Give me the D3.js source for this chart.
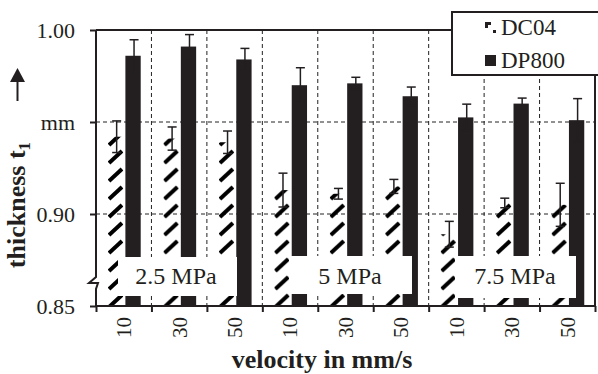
<!DOCTYPE html>
<html>
<head>
<meta charset="utf-8">
<script src="https://cdn.jsdelivr.net/npm/d3@7/dist/d3.min.js"></script>
<style>
  body { margin: 0; background: #fff; }
  svg { display: block; font-family: "Liberation Serif", "Times New Roman", serif; }
</style>
</head>
<body>
<div id="chart"></div>
<script>
// values
const pressures = ['2.5 MPa', '5 MPa', '7.5 MPa'];
const velocities = ['10', '30', '50'];
const series = ['DC04', 'DP800'];
const dc04 = [0.942, 0.941, 0.939, 0.913, 0.911, 0.915, 0.889, 0.906, 0.905];
const dc04Err = [0.0086, 0.0063, 0.0061, 0.0092, 0.0029, 0.0038, 0.007, 0.0026, 0.0117];
const dp800 = [0.986, 0.991, 0.984, 0.970, 0.971, 0.964, 0.9525, 0.960, 0.951];
const dp800Err = [0.0087, 0.0065, 0.006, 0.0095, 0.0033, 0.005, 0.0072, 0.003, 0.0117];
const yTicks = [0.85, 0.90, 0.95, 1.00];
const yTickLabels = ['0.85', '0.90', 'mm', '1.00'];

const width = 598, height = 374;
const plotL = 96, plotR = 595, plotT = 30, plotB = 306;
const ink = '#231f20';

const groups = [];
pressures.forEach(p => velocities.forEach(v => groups.push({ p, v })));

const data = groups.map((g, i) => ({
    i, p: g.p, v: g.v,
    vals: [
        { s: 'DC04', v: dc04[i], e: dc04Err[i] },
        { s: 'DP800', v: dp800[i], e: dp800Err[i] }
    ]
}));

const x = d3.scaleBand().domain(d3.range(groups.length)).range([plotL, plotR]);
const xs = d3.scaleBand().domain(series).range([12, 44.7]).paddingInner(0.12);
const y = d3.scaleLinear().domain([0.85, 1.00]).range([plotB, plotT]);
const edges = d3.scaleLinear().domain([0, groups.length]).range([plotL, plotR]);

const svg = d3.select('#chart').append('svg')
    .attr('width', width)
    .attr('height', height);

// hatch lives in each group's local space, so anchor it at the bar's local x
const defs = svg.append('defs');
const hatch = defs.append('pattern')
    .attr('id', 'hatch')
    .attr('patternUnits', 'userSpaceOnUse')
    .attr('x', xs('DC04'))
    .attr('y', 3)
    .attr('width', 40)
    .attr('height', 18);
hatch.append('path')
    .attr('d', 'M1,16 L14,4')
    .attr('stroke', '#000')
    .attr('stroke-width', 4);

// grid
const grid = svg.append('g');
grid.selectAll('.hgrid')
    .data([0.90, 0.95])
    .enter().append('line')
    .attr('x1', plotL).attr('x2', plotR)
    .attr('y1', d => y(d)).attr('y2', d => y(d))
    .style('stroke', '#222').style('stroke-dasharray', '4,3');
grid.selectAll('.vgrid')
    .data(d3.range(1, groups.length))
    .enter().append('line')
    .attr('x1', d => edges(d)).attr('x2', d => edges(d))
    .attr('y1', plotT).attr('y2', plotB)
    .style('stroke', '#222').style('stroke-dasharray', '4,3');

// bars
const groupG = svg.append('g').selectAll('.group')
    .data(data)
    .enter().append('g')
    .attr('transform', d => `translate(${x(d.i)},0)`);

groupG.selectAll('rect')
    .data(d => d.vals)
    .enter().append('rect')
    .attr('x', d => xs(d.s))
    .attr('width', xs.bandwidth())
    .attr('y', d => y(d.v))
    .attr('height', d => plotB - y(d.v))
    .style('fill', d => d.s === 'DC04' ? 'url(#hatch)' : ink);

// error bars
const err = groupG.selectAll('.err')
    .data(d => d.vals)
    .enter().append('g')
    .attr('transform', d => `translate(${xs(d.s) + xs.bandwidth() / 2 + 1},0)`)
    .style('stroke', ink)
    .style('stroke-width', 1.5);
err.append('line')
    .attr('y1', d => y(d.v - d.e)).attr('y2', d => y(d.v + d.e));
err.append('line')
    .attr('x1', -4.5).attr('x2', 4.5)
    .attr('y1', d => y(d.v + d.e)).attr('y2', d => y(d.v + d.e));
err.append('line')
    .attr('x1', -4.5).attr('x2', 4.5)
    .attr('y1', d => y(d.v - d.e)).attr('y2', d => y(d.v - d.e));

// pressure boxes
const boxes = [
    { x0: 118, x1: 237, y0: 257, y1: 296, tx: 176 },
    { x0: 289, x1: 412, y0: 256, y1: 294, tx: 350 },
    { x0: 455, x1: 576, y0: 256, y1: 298, tx: 515 }
];
const boxG = svg.append('g').selectAll('.box')
    .data(pressures)
    .enter().append('g');
boxG.append('rect')
    .attr('x', (d, i) => boxes[i].x0)
    .attr('y', (d, i) => boxes[i].y0)
    .attr('width', (d, i) => boxes[i].x1 - boxes[i].x0)
    .attr('height', (d, i) => boxes[i].y1 - boxes[i].y0)
    .style('fill', '#fff');
boxG.append('text')
    .attr('x', (d, i) => boxes[i].tx)
    .attr('y', 284)
    .attr('text-anchor', 'middle')
    .style('font-size', '24px')
    .style('fill', ink)
    .text(d => d);

// y axis
const yAxis = svg.append('g')
    .attr('transform', `translate(${plotL},0)`)
    .call(d3.axisLeft(y).tickValues(yTicks).tickSize(6).tickPadding(15)
        .tickFormat((d, i) => yTickLabels[i]));
yAxis.select('.domain').remove();
yAxis.selectAll('line').style('stroke', ink).style('stroke-width', 2);
yAxis.selectAll('text')
    .style('font-size', '22px')
    .style('font-family', '"Liberation Serif", serif')
    .style('fill', ink);

// x axis: ticks at group edges, labels at centres
const xEdge = svg.append('g')
    .attr('transform', `translate(0,${plotB})`)
    .call(d3.axisBottom(edges).tickValues(d3.range(0, groups.length + 1)).tickSize(6).tickFormat(''));
xEdge.select('.domain').remove();
xEdge.selectAll('line').style('stroke', ink).style('stroke-width', 2);

const xLab = svg.append('g')
    .attr('transform', `translate(0,${plotB})`)
    .call(d3.axisBottom(x).tickSize(0).tickFormat(i => groups[i].v));
xLab.select('.domain').remove();
xLab.selectAll('text')
    .attr('transform', 'rotate(-90)')
    .attr('x', -11)
    .attr('y', 0)
    .attr('dy', '0.35em')
    .attr('text-anchor', 'end')
    .style('font-size', '21px')
    .style('font-family', '"Liberation Serif", serif')
    .style('fill', ink);

// frame with axis break
svg.append('path')
    .attr('d', `M${plotL},${plotT} V277 L89,283 L98,283 L${plotL},289 V${plotB} H${plotR} V${plotT} H${plotL}`)
    .style('fill', 'none')
    .style('stroke', ink)
    .style('stroke-width', 2);

// legend
const legend = svg.append('g');
legend.append('rect')
    .attr('x', 452).attr('y', 12)
    .attr('width', 160).attr('height', 63)
    .style('fill', '#fff')
    .style('stroke', ink)
    .style('stroke-width', 2);
const legendItems = legend.selectAll('.item')
    .data(series)
    .enter().append('g')
    .attr('transform', (d, i) => `translate(485,${22 + i * 33})`);
legendItems.append('path')
    .attr('d', d => d === 'DC04'
        ? 'M0,0 H6 V3 H3 V6 H0 Z M8,8 H11 V11 H8 Z'
        : 'M0,0 H11 V11 H0 Z')
    .style('fill', ink);
legendItems.append('text')
    .attr('x', 16)
    .attr('y', 13)
    .style('font-size', '23px')
    .style('fill', ink)
    .text(d => d);

// axis titles
svg.append('text')
    .attr('x', 322)
    .attr('y', 368)
    .attr('text-anchor', 'middle')
    .style('font-size', '26px')
    .style('font-weight', 'bold')
    .style('fill', ink)
    .text('velocity in mm/s');

const yTitle = svg.append('text')
    .attr('transform', 'translate(25,205) rotate(-90)')
    .attr('text-anchor', 'middle')
    .style('font-size', '26px')
    .style('font-weight', 'bold')
    .style('fill', ink);
yTitle.append('tspan').text('thickness t');
yTitle.append('tspan')
    .attr('dy', 5)
    .style('font-size', '17px')
    .text('1');

// arrow
svg.append('line')
    .attr('x1', 17.5).attr('x2', 17.5)
    .attr('y1', 101).attr('y2', 80)
    .style('stroke', ink).style('stroke-width', 2);
svg.append('path')
    .attr('d', 'M10,82 L25,82 L17.5,68 Z')
    .style('fill', ink);
</script>
</body>
</html>
